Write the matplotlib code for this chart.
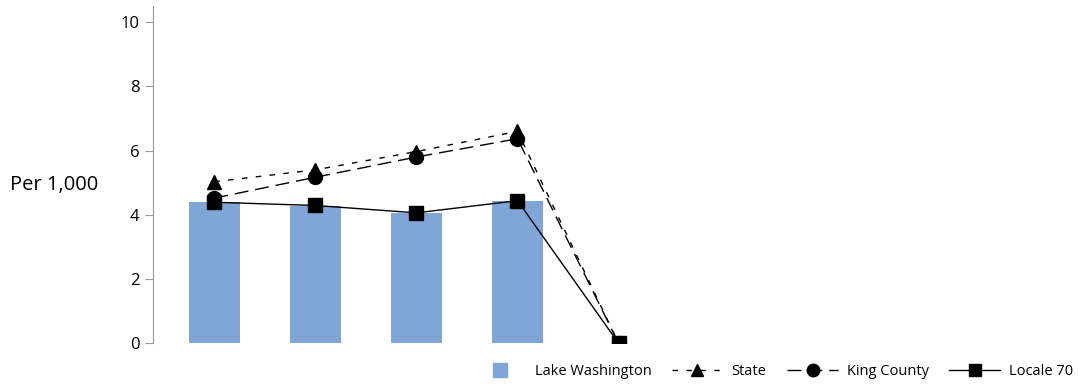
from matplotlib import pyplot as plt
from matplotlib.lines import Line2D

categories = ['1', '2', '3', '4', '5']
lake_washington = [4.39, 4.27, 4.04, 4.42, 0]
state = [5.03, 5.4, 5.97, 6.6, 0]
king_county = [4.52, 5.17, 5.8, 6.37, 0]
locale_70 = [4.39, 4.29, 4.06, 4.44, 0]

plt.rcParams['font.family'] = ['Open Sans', 'DejaVu Sans']

fig = plt.figure(figsize=(10.83, 3.86), dpi=100)
ax = fig.add_axes([0.141, 0.111, 0.85, 0.873])

bar_color = '#7FA6D6'
x = list(range(len(categories)))
ax.bar(x[:4], lake_washington[:4], width=0.5, color=bar_color,
       label='Lake Washington', zorder=1)
l1, = ax.plot(x, state, color='black', lw=1, linestyle=(0, (4, 6)), marker='^',
              markersize=10, label='State', zorder=3)
l2, = ax.plot(x, king_county, color='black', lw=1, linestyle=(0, (10, 5)), marker='o',
              markersize=10, label='King County', zorder=3)
l3, = ax.plot(x, locale_70, color='black', lw=1, marker='s',
              markersize=10, label='Locale 70', zorder=4)

ax.set_xlim(-0.61, 8.5)
ax.set_ylim(0, 10.5)
ax.set_yticks([0, 2, 4, 6, 8, 10])
ax.set_xticks([])
for s in ['top', 'right', 'bottom']:
    ax.spines[s].set_visible(False)
ax.spines['left'].set_color('#999999')
ax.tick_params(axis='y', colors='#999999', labelcolor='black', length=6,
               labelsize=12)
fig.text(0.009, 0.52, 'Per 1,000', fontsize=14.5, va='center', ha='left')

bar_handle = Line2D([], [], linestyle='none', marker='s', markersize=11,
                    color=bar_color)
fig.legend([bar_handle, l1, l2, l3], ['Lake Washington', 'State', 'King County', 'Locale 70'],
           loc='lower right', bbox_to_anchor=(1.003, -0.015), ncol=4,
           frameon=False, fontsize=10.5, handlelength=3.5, columnspacing=1.4,
           handletextpad=0.6, markerscale=0.9)

plt.savefig('out.png')
